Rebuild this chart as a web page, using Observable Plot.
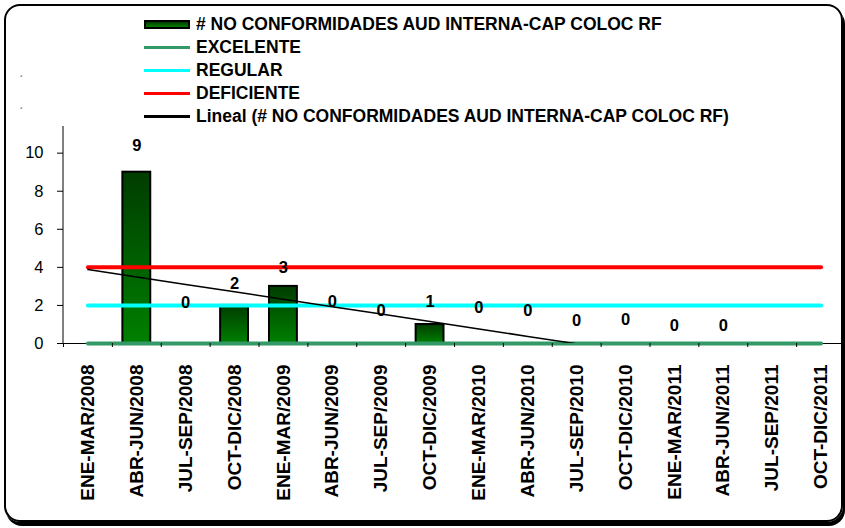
<!DOCTYPE html>
<html><head><meta charset="utf-8">
<script src="https://cdn.jsdelivr.net/npm/d3@7"></script>
<script src="https://cdn.jsdelivr.net/npm/@observablehq/plot@0.6"></script>
<style>
body{margin:0;background:#fff;font-family:"Liberation Sans",Arial,sans-serif}
#wrap{position:relative;width:845px;height:528px;overflow:hidden;background:#fff}
#frame{position:absolute;left:4px;top:4px;width:835px;height:514px;border:2px solid #000;border-radius:16px;box-shadow:2px 4px 0 #000;pointer-events:none}
#legend{position:absolute;left:144px;top:12.5px;font-weight:bold;font-size:17.5px;line-height:23px;color:#000}
.row{display:flex;align-items:center;height:23px;white-space:nowrap}
.sw{width:46px;margin-right:6px;box-sizing:border-box;flex:none}
.mark{position:absolute;font-size:9px;color:#000}
#chart{position:absolute;left:0;top:0}
</style></head>
<body>
<div id="wrap">
  <div id="chart"></div>
  <div id="legend"></div>
  <span class="mark" style="left:20px;top:74px">´</span>
  <span class="mark" style="left:20px;top:106px">´</span>
  <div id="frame"></div>
</div>
<script>
const categories = ["ENE-MAR/2008","ABR-JUN/2008","JUL-SEP/2008","OCT-DIC/2008","ENE-MAR/2009","ABR-JUN/2009","JUL-SEP/2009","OCT-DIC/2009","ENE-MAR/2010","ABR-JUN/2010","JUL-SEP/2010","OCT-DIC/2010","ENE-MAR/2011","ABR-JUN/2011","JUL-SEP/2011","OCT-DIC/2011"];
const noConformidades = [null, 9, 0, 2, 3, 0, 0, 1, 0, 0, 0, 0, 0, 0, null, null];
const excelente  = [0,0,0,0,0,0,0,0,0,0,0,0,0,0,0,0];
const regular    = [2,2,2,2,2,2,2,2,2,2,2,2,2,2,2,2];
const deficiente = [4,4,4,4,4,4,4,4,4,4,4,4,4,4,4,4];
// heights (in chart units) where the data labels sit in the original
const labelY = [null, 10.4, 2.12, 3.15, 4.0, 2.22, 1.73, 2.22, 1.88, 1.73, 1.21, 1.26, 0.91, 0.91, null, null];
const yTicks = [0, 2, 4, 6, 8, 10];
const seriesNames = ["# NO CONFORMIDADES AUD INTERNA-CAP COLOC RF","EXCELENTE","REGULAR","DEFICIENTE","Lineal (# NO CONFORMIDADES AUD INTERNA-CAP COLOC RF)"];
const seriesColors = ["#006400","#339966","#00ffff","#ff0000","#000000"];

const rows = categories.map((c, i) => ({cat: c, v: noConformidades[i], ly: labelY[i]}));
const ref = (arr) => categories.map((c, i) => ({cat: c, v: arr[i]}));

// linear trendline (Excel "Lineal") from the bar series
const pts = noConformidades.map((v, i) => ({x: i + 1, v})).filter(d => d.v != null);
const mx = d3.mean(pts, d => d.x), my = d3.mean(pts, d => d.v);
const slope = d3.sum(pts, d => (d.x - mx) * (d.v - my)) / d3.sum(pts, d => (d.x - mx) ** 2);
const trend = categories.map((c, i) => ({cat: c, v: my + slope * (i + 1 - mx)}));

const W = 845, H = 528, ML = 63, MR = 0, MT = 126, MB = 185;
const bw = (W - ML - MR) / categories.length;

const defs = () => {
  const d = d3.create("svg:defs");
  const g = d.append("linearGradient").attr("id", "barGrad").attr("x1", 0).attr("y1", 0).attr("x2", 0).attr("y2", 1);
  g.append("stop").attr("offset", "0%").attr("stop-color", "#003c00");
  g.append("stop").attr("offset", "100%").attr("stop-color", "#008000");
  return d.node();
};
const yAxisLine = (index, scales, values, dims) => {
  const g = d3.create("svg:line")
    .attr("x1", dims.marginLeft).attr("x2", dims.marginLeft)
    .attr("y1", dims.marginTop).attr("y2", dims.height - dims.marginBottom)
    .attr("stroke", "#000").attr("stroke-width", 1);
  return g.node();
};

const plot = Plot.plot({
  width: W, height: H,
  marginLeft: ML, marginRight: MR, marginTop: MT, marginBottom: MB,
  style: {fontFamily: "'Liberation Sans', Arial, sans-serif", color: "#000", background: "transparent"},
  x: {type: "band", domain: categories, padding: 0, round: false},
  y: {domain: [0, 11.4]},
  marks: [
    defs,
    Plot.barY(rows.filter(d => d.v > 0), {x: "cat", y: "v", fill: "url(#barGrad)", stroke: "#000", strokeWidth: 2, insetLeft: 10.5, insetRight: 10.5}),
    Plot.ruleY([0], {stroke: "#000", strokeWidth: 1}),
    Plot.lineY(ref(excelente), {x: "cat", y: "v", stroke: seriesColors[1], strokeWidth: 4, strokeLinecap: "round"}),
    Plot.lineY(ref(regular), {x: "cat", y: "v", stroke: seriesColors[2], strokeWidth: 4, strokeLinecap: "round"}),
    Plot.lineY(ref(deficiente), {x: "cat", y: "v", stroke: seriesColors[3], strokeWidth: 4, strokeLinecap: "round"}),
    Plot.lineY(trend, {x: "cat", y: "v", stroke: "#000", strokeWidth: 1.5, clip: true}),
    Plot.text(rows.filter(d => d.v != null), {x: "cat", y: "ly", text: d => String(d.v), fontWeight: "bold", fontSize: 16.5, fill: "#000"}),
    yAxisLine,
    Plot.axisY({ticks: yTicks, tickSize: 6, tickPadding: 14, fontSize: 16.5, label: null}),
    Plot.axisX({tickSize: 4, dx: -bw / 2, fill: "none", label: null}),
    Plot.axisX({tickSize: 0, tickPadding: 21, tickRotate: -90, fontSize: 19, fontWeight: "bold", label: null})
  ]
});
document.getElementById("chart").appendChild(plot);

// legend
const leg = d3.select("#legend");
seriesNames.forEach((name, i) => {
  const r = leg.append("div").attr("class", "row");
  const sw = r.append("div").attr("class", "sw");
  if (i === 0) {
    sw.style("height", "9px").style("border", "2px solid #000").style("background", "linear-gradient(#003c00,#008000)");
  } else {
    sw.style("height", "3px").style("background", seriesColors[i]);
  }
  r.append("span").text(name);
});
</script>
</body></html>
